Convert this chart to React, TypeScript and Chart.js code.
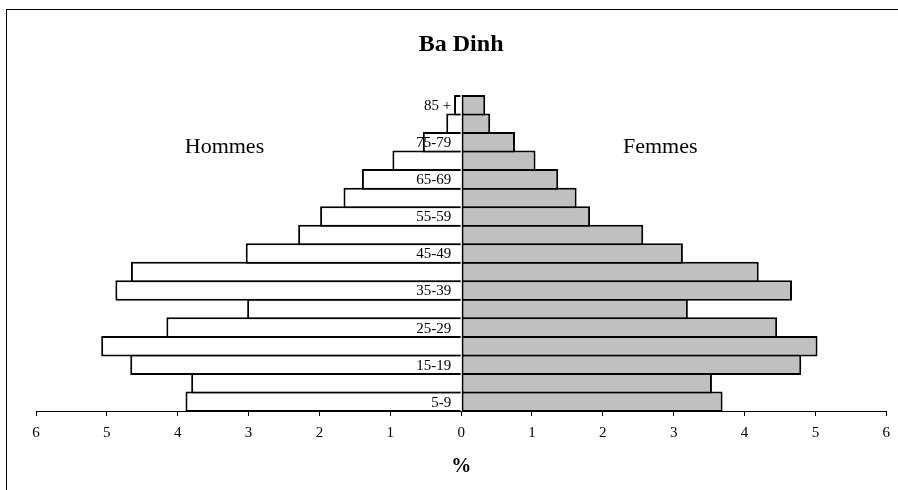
import React, { useEffect, useRef } from "react";
import { Chart, registerables } from "chart.js";

Chart.register(...registerables);

// ---- Data ----
const ageGroups = [
  "5-9", "10-14", "15-19", "20-24", "25-29", "30-34", "35-39", "40-44",
  "45-49", "50-54", "55-59", "60-64", "65-69", "70-74", "75-79", "80-84", "85 +",
];
const hommes = [3.89, 3.81, 4.67, 5.08, 4.16, 3.02, 4.88, 4.66, 3.04, 2.3, 1.99, 1.66, 1.4, 0.97, 0.54, 0.21, 0.1];
const femmes = [3.69, 3.54, 4.8, 5.03, 4.46, 3.2, 4.67, 4.2, 3.13, 2.57, 1.82, 1.63, 1.37, 1.05, 0.76, 0.41, 0.34];
const xMin = -6;
const xMax = 6;
const chartTitle = "Ba Dinh";
const menLabel = "Hommes";
const womenLabel = "Femmes";
const axisTitle = "%";

const SERIF = "'Liberation Serif', 'Times New Roman', serif";

const textPlugin = {
  id: "pyramidText",
  afterDatasetsDraw(chart: any) {
    const { ctx, scales } = chart;
    const x = scales.x;
    const y = scales.y;
    const x0 = x.getPixelForValue(0);
    ctx.save();
    ctx.fillStyle = "#000";
    ctx.font = `15px ${SERIF}`;
    ctx.textAlign = "right";
    ctx.textBaseline = "middle";
    ageGroups.forEach((lab, i) => {
      if (i % 2 !== 0) return;
      ctx.fillText(lab, x0 - 10, y.getPixelForValue(i) + 1);
    });
    ctx.restore();
  },
  afterDraw(chart: any) {
    const { ctx, scales } = chart;
    const x = scales.x;
    ctx.save();
    ctx.fillStyle = "#000";
    ctx.textAlign = "center";
    ctx.textBaseline = "middle";
    ctx.font = `bold 24px ${SERIF}`;
    ctx.fillText(chartTitle, x.getPixelForValue(0), 45);
    ctx.font = `22px ${SERIF}`;
    ctx.fillText(menLabel, x.getPixelForValue(-3.34), 147);
    ctx.fillText(womenLabel, x.getPixelForValue(2.81), 147);
    ctx.font = `bold 20px ${SERIF}`;
    ctx.fillText(axisTitle, x.getPixelForValue(0), 467);
    ctx.restore();
  },
};

export default function App() {
  const canvasRef = useRef<HTMLCanvasElement | null>(null);

  useEffect(() => {
    if (!canvasRef.current) return;
    const chart = new Chart(canvasRef.current, {
      type: "bar",
      data: {
        labels: ageGroups,
        datasets: [
          {
            label: menLabel,
            data: hommes.map((v) => -v),
            backgroundColor: "#ffffff",
            borderColor: "#000000",
            borderWidth: 2,
            borderSkipped: "start",
            categoryPercentage: 1,
            barPercentage: 1.108,
            clip: false as any,
          },
          {
            label: womenLabel,
            data: femmes,
            backgroundColor: "#c0c0c0",
            borderColor: "#000000",
            borderWidth: 2,
            borderSkipped: false,
            categoryPercentage: 1,
            barPercentage: 1.108,
            clip: false as any,
          },
        ],
      },
      options: {
        indexAxis: "y",
        responsive: false,
        animation: false,
        events: [],
        layout: { padding: { top: 96, left: 36, right: 3, bottom: 40 } },
        plugins: {
          legend: { display: false },
          tooltip: { enabled: false },
          title: { display: false },
        },
        scales: {
          x: {
            type: "linear",
            min: xMin,
            max: xMax,
            stacked: true,
            position: "bottom",
            grid: {
              display: true,
              drawOnChartArea: false,
              drawTicks: true,
              tickLength: 5,
              color: "#000",
            },
            border: { display: true, color: "#000", width: 1 },
            ticks: {
              stepSize: 1,
              padding: 8,
              color: "#000",
              font: { family: SERIF, size: 15 },
              callback: (v: any) => String(Math.abs(Number(v))),
            },
          },
          y: {
            type: "category",
            stacked: true,
            reverse: true,
            display: false,
          },
        },
      },
      plugins: [textPlugin],
    });
    return () => chart.destroy();
  }, []);

  return (
    <div style={{ position: "fixed", left: 0, top: 0, width: 898, height: 490, overflow: "hidden", background: "#fff" }}>
      <div
        style={{
          position: "absolute",
          left: 6,
          top: 9,
          width: 1000,
          height: 1000,
          border: "1px solid #000",
          boxSizing: "border-box",
        }}
      />
      <canvas
        ref={canvasRef}
        width={898}
        height={490}
        style={{ position: "absolute", left: 0, top: 0, width: 898, height: 490 }}
      />
    </div>
  );
}
